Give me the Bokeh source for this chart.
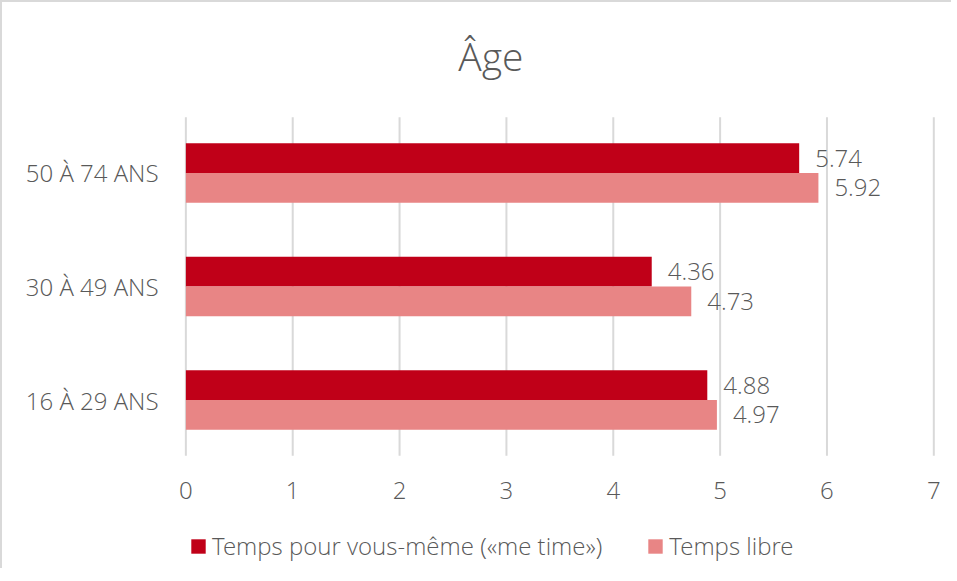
from bokeh.plotting import figure
from bokeh.models import FactorRange, Range1d, Legend, LegendItem, ColumnDataSource
from bokeh.transform import dodge
from bokeh.core.properties import value
from bokeh.embed import file_html
from bokeh.resources import INLINE

categories = ["16 À 29 ANS", "30 À 49 ANS", "50 À 74 ANS"]
me_time = [4.88, 4.36, 5.74]
temps_libre = [4.97, 4.73, 5.92]
x_ticks = [0, 1, 2, 3, 4, 5, 6, 7]
series_names = ["Temps pour vous-même («me time»)", "Temps libre"]
title_text = "Âge"

FONT = "'Open Sans Light', 'Open Sans'"
TXT = "#595959"
C1 = "#C00018"
C2 = "#E88585"
GRID = "#D9D9D9"

# blank factors above / below give room for the title, tick labels and legend inside the frame
TOP_PAD, BOTTOM_PAD = " ", "  "
factors = [BOTTOM_PAD] + categories + [TOP_PAD]

src = ColumnDataSource(dict(
    cat=categories, me=me_time, libre=temps_libre,
    me_lbl=[f"{v:.2f}" for v in me_time],
    libre_lbl=[f"{v:.2f}" for v in temps_libre],
))
grid_src = ColumnDataSource(dict(
    x=x_ticks, lbl=[str(t) for t in x_ticks],
    lo=[categories[0]] * len(x_ticks), hi=[categories[-1]] * len(x_ticks),
))
title_src = ColumnDataSource(dict(x=[3.5], y=[TOP_PAD], t=[title_text]))

p = figure(width=951, height=568, output_backend="svg", toolbar_location=None,
           y_range=FactorRange(factors=factors, range_padding=0),
           x_range=Range1d(-0.2, 7.1), x_axis_location=None, title=None,
           min_border_left=162, min_border_right=9, min_border_top=0, min_border_bottom=0)
p.styles = {"border-top": "2px solid #D9D9D9", "border-left": "2px solid #D9D9D9"}
p.outline_line_color = None
p.background_fill_color = "white"
p.border_fill_color = "white"
p.xgrid.visible = False
p.ygrid.visible = False

# vertical grid lines at the x ticks
p.segment(x0="x", x1="x", y0=dodge("lo", -0.49, range=p.y_range), y1=dodge("hi", 0.49, range=p.y_range),
          source=grid_src, line_color=GRID, line_width=2)

bh = 0.262
r1 = p.hbar(y=dodge("cat", bh / 2, range=p.y_range), right="me", left=0, height=bh,
            source=src, fill_color=C1, line_color=None)
r2 = p.hbar(y=dodge("cat", -bh / 2, range=p.y_range), right="libre", left=0, height=bh,
            source=src, fill_color=C2, line_color=None)

p.text(x="me", y=dodge("cat", bh / 2, range=p.y_range), text="me_lbl", source=src,
       x_offset=16, text_baseline="middle", text_align="left",
       text_font=value(FONT), text_font_size="24px", text_color=TXT)
p.text(x="libre", y=dodge("cat", -bh / 2, range=p.y_range), text="libre_lbl", source=src,
       x_offset=16, text_baseline="middle", text_align="left",
       text_font=value(FONT), text_font_size="24px", text_color=TXT)

# x tick labels
p.text(x="x", y=dodge("lo", -0.8, range=p.y_range), text="lbl", source=grid_src,
       text_align="center", text_baseline="middle",
       text_font=value(FONT), text_font_size="24px", text_color=TXT)

# title
p.text(x="x", y="y", text="t", source=title_src, x_offset=-69, y_offset=-4,
       text_align="center", text_baseline="middle",
       text_font=value(FONT), text_font_size="39px", text_color=TXT)

p.yaxis.axis_line_color = None
p.yaxis.major_tick_line_color = None
p.yaxis.minor_tick_line_color = None
p.yaxis.major_label_standoff = 0
p.yaxis.major_label_text_font = FONT
p.yaxis.major_label_text_font_size = "24px"
p.yaxis.major_label_text_color = TXT

legend = Legend(items=[LegendItem(label=series_names[0], renderers=[r1]),
                       LegendItem(label=series_names[1], renderers=[r2])],
                orientation="horizontal", location=(25, 8),
                glyph_width=18, glyph_height=18, label_standoff=5, spacing=44,
                label_text_font=FONT, label_text_font_size="24px", label_text_color=TXT,
                border_line_color=None, background_fill_alpha=0, padding=0, margin=0)
p.add_layout(legend, "center")

open("out.html", "w").write(file_html(p, INLINE))
